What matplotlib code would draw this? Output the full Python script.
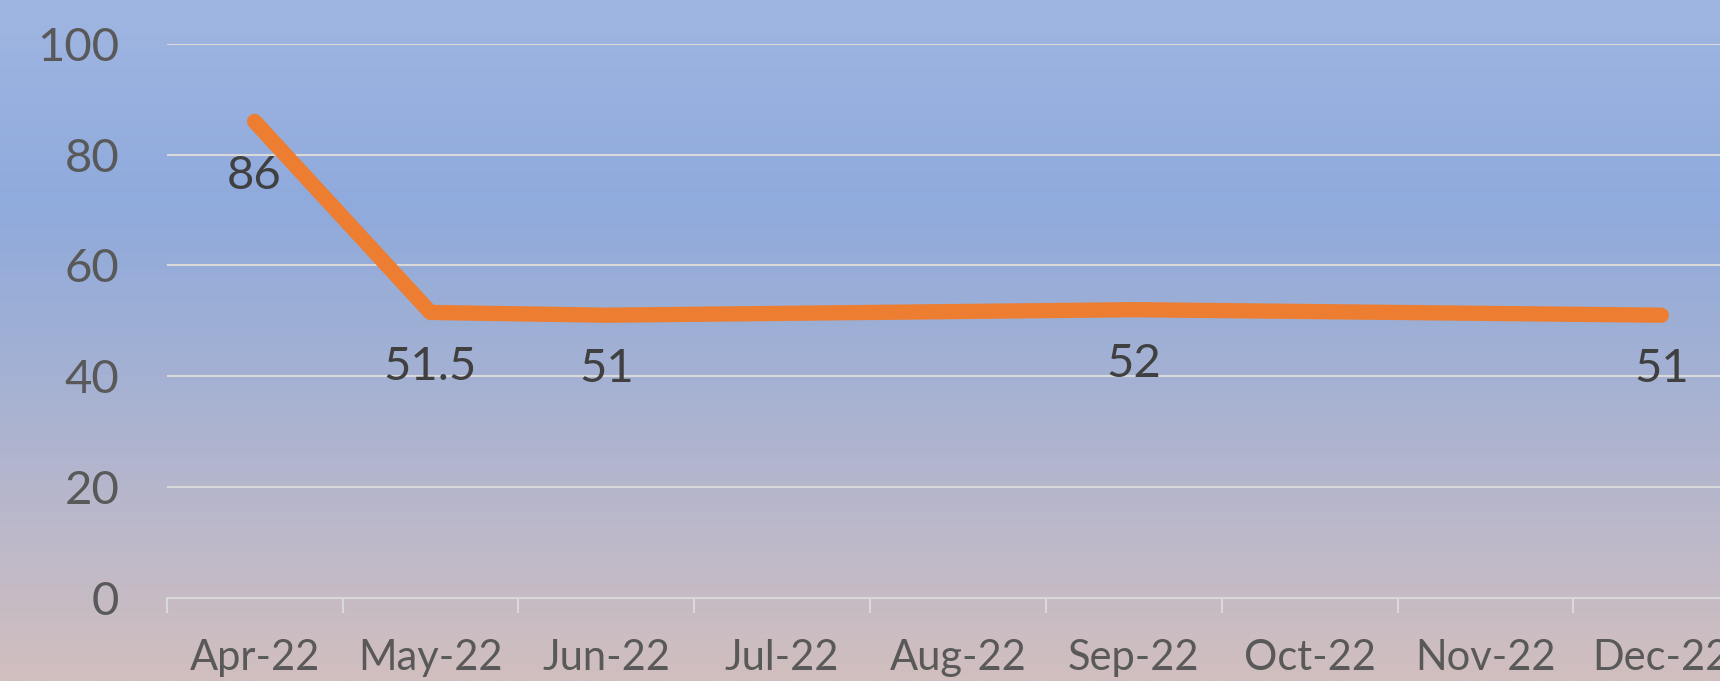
import matplotlib
matplotlib.use("Agg")
import matplotlib.pyplot as plt
import numpy as np
from matplotlib.colors import LinearSegmentedColormap

months = ["Apr-22", "May-22", "Jun-22", "Jul-22", "Aug-22", "Sep-22", "Oct-22", "Nov-22", "Dec-22"]
values = [86, 51.5, 51, None, None, 52, None, None, 51]
labels = ["86", "51.5", "51", None, None, "52", None, None, "51"]
yticks = [0, 20, 40, 60, 80, 100]

plt.rcParams['font.family'] = ['Lato', 'DejaVu Sans']

fig = plt.figure(figsize=(17.2, 6.81), dpi=100)

# gradient background
bg = fig.add_axes([0, 0, 1, 1], zorder=-10)
cmap = LinearSegmentedColormap.from_list("bg", [
    (0.0, "#A0B6E2"),
    (0.30, "#8FAADC"),
    (0.55, "#A4B1D3"),
    (0.80, "#BEB9C9"),
    (1.0, "#D2BFBE"),
])
grad = np.linspace(0, 1, 256).reshape(-1, 1)
bg.imshow(grad, aspect='auto', cmap=cmap, extent=[0, 1, 0, 1], origin='upper')
bg.axis('off')

ax = fig.add_axes([0.0969, 0.1225, 0.9201, 0.8130])
ax.patch.set_alpha(0)

x = np.arange(len(months))
xs = [xi for xi, v in zip(x, values) if v is not None]
ys = [v for v in values if v is not None]
ax.plot(xs, ys, color="#ED7D31", lw=11, solid_capstyle='round', solid_joinstyle='round', zorder=3)

for xi, v, lab in zip(x, values, labels):
    if v is not None:
        ax.annotate(lab, (xi, v), xytext=(0, -39), textcoords='offset points',
                    ha='center', va='center', fontsize=34, color="#404040", zorder=4)

ax.set_xlim(-0.5, len(months) - 0.5)
ax.set_ylim(0, 100)
ax.set_yticks(yticks)
ax.set_yticklabels([str(t) for t in yticks])
ax.grid(axis='y', color="#D9D9D9", lw=1.5, zorder=1)
ax.set_axisbelow(True)

ax.set_xticks(x)
ax.set_xticklabels(months)
ax.set_xticks(np.arange(-0.5, len(months), 1.0), minor=True)
ax.tick_params(axis='x', which='major', length=0, pad=30, labelsize=30, labelcolor="#595959")
ax.tick_params(axis='x', which='minor', length=11, width=1.5, color="#D9D9D9", direction='out')
ax.tick_params(axis='y', length=0, pad=34, labelsize=34, labelcolor="#595959")

for s in ['top', 'right', 'left']:
    ax.spines[s].set_visible(False)
ax.spines['bottom'].set_color("#D9D9D9")
ax.spines['bottom'].set_linewidth(1.5)

fig.savefig("out.png", dpi=100)
